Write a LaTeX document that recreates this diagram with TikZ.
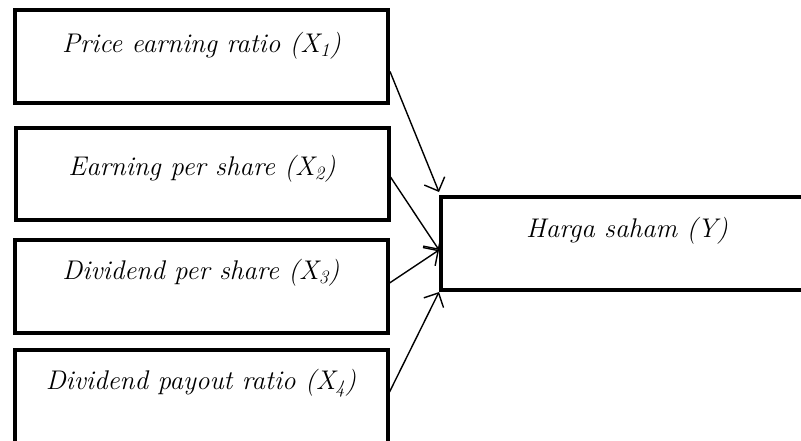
\documentclass[tikz,border=0pt]{standalone}
\usepackage{fontspec}
\usepackage{tikz}
\usetikzlibrary{arrows.meta,positioning}

\begin{document}
\begin{tikzpicture}[x=1pt, y=-1pt,
    box/.style = {draw, line width=4pt, inner sep=0pt, minimum width=373pt,
                  font=\fontsize{27pt}{31pt}\selectfont\itshape},
    link/.style = {line width=1.4pt, -{Straight Barb[length=11pt, width=22pt, line width=1.4pt]}}]
    \centering
    \useasboundingbox (0,0) rectangle (801,440);
    \node(P) at (201.5,56.5) [box, text height=42pt, text depth=51pt] {Price earning ratio (X\textsubscript{1})};
    \node(E) at (202,174) [box, text height=47pt, text depth=45pt] {Earning per share (X\textsubscript{2})};
    \node(D) at (201,286.5) [box, text height=39pt, text depth=54pt] {Dividend per share (X\textsubscript{3})};
    \node(R) at (201,396.5) [box, text height=39pt, text depth=54pt] {Dividend payout ratio (X\textsubscript{4})};
    \node(Y) at (627,243.5) [box, minimum width=372pt, text height=40pt, text depth=53pt] {Harga saham (Y)};
    \draw [link] ([yshift=-15pt]P.east) -- ([yshift=51.5pt]Y.west);
    \draw [link] ([yshift=-3pt]E.east) -- ([yshift=-6.5pt]Y.west);
    \draw [link] ([yshift=3.5pt]D.east) -- ([yshift=-6.5pt]Y.west);
    \draw [link] ([yshift=4.5pt]R.east) -- ([yshift=-48.5pt]Y.west);
  \end{tikzpicture}
\end{document}
